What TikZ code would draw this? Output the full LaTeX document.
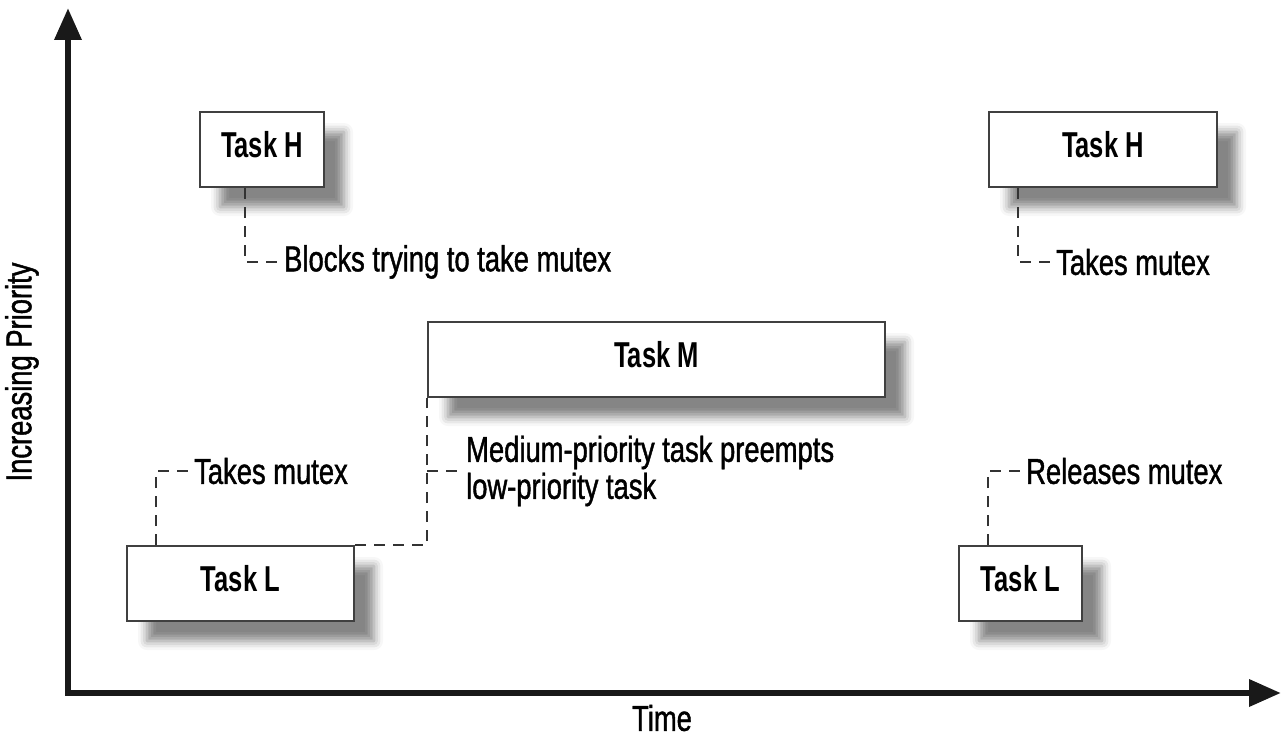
\documentclass[tikz,border=0pt]{standalone}
\usepackage{fontspec}
\setmainfont{Liberation Sans}
\newfontfamily\notefont[FakeStretch=0.76,FakeBold=1.2]{Liberation Sans}
\newfontfamily\taskfont[FakeStretch=0.71]{Liberation Sans}
\usetikzlibrary{arrows.meta,shadows.blur}
\tikzset{
  taskbox/.style={rectangle, draw=black!75, line width=2pt, fill=white, inner sep=0pt,
    minimum height=75pt, text depth=10pt,
    font=\taskfont\bfseries\fontsize{36}{40}\selectfont,
    blur shadow={shadow xshift=20pt, shadow yshift=-20pt, shadow blur radius=9pt, shadow opacity=48}},
  note/.style={anchor=west, inner sep=6pt, align=left,
    font=\notefont\fontsize{36}{37}\selectfont},
  leader/.style={draw=black!80, line width=2pt, dash pattern=on 11pt off 8pt},
  axis/.style={draw=black!90, line width=6.5pt, line join=miter,
    {Triangle[length=32pt,width=26pt]}-{Triangle[length=32pt,width=26pt]}}
}
\begin{document}
\begin{tikzpicture}[x=1pt,y=-1pt]
  \useasboundingbox (0,0) rectangle (1281,738);
  % axes
  \coordinate (ytip) at (68,8);
  \coordinate (origin) at (68,693);
  \coordinate (xtip) at (1281,693);
  \draw[axis] (ytip) -- (origin) -- (xtip);
  \node[font=\notefont\fontsize{36}{40}\selectfont, rotate=90] (ylab) at (22,372) {Increasing Priority};
  \node[font=\notefont\fontsize{36}{40}\selectfont] (xlab) at (662,718) {Time};
  % tasks
  \node[taskbox, minimum width=124pt] (hL) at (262,149.5) {Task H};
  \node[taskbox, minimum width=228pt] (hR) at (1103,149.5) {Task H};
  \node[taskbox, minimum width=457pt] (mM) at (656.5,359.5) {Task M};
  \node[taskbox, minimum width=227pt] (lL) at (240.5,583.5) {Task L};
  \node[taskbox, minimum width=123pt] (lR) at (1020.5,583.5) {Task L};
  % notes
  \node[note] (blk) at (278,262) {Blocks trying to take mutex};
  \node[note] (takesH) at (1050,262) {Takes mutex};
  \node[note] (takesL) at (188,471) {Takes mutex};
  \node[note] (rel) at (1020,471) {Releases mutex};
  \node[note] (med) at (460,471) {Medium-priority task preempts\\low-priority task};
  \begin{scope}[leader]
    \draw (hL.south west) ++(46,0) |- (blk.west);
    \draw (hR.south west) ++(30,0) |- (takesH.west);
    \draw (lL.north west) ++(30,0) |- (takesL.west);
    \draw (lR.north west) ++(30,0) |- (rel.west);
    \draw (lL.north east) -| (mM.south west);
    \draw (mM.south west |- med.west) -- (med.west);
  \end{scope}
\end{tikzpicture}
\end{document}
